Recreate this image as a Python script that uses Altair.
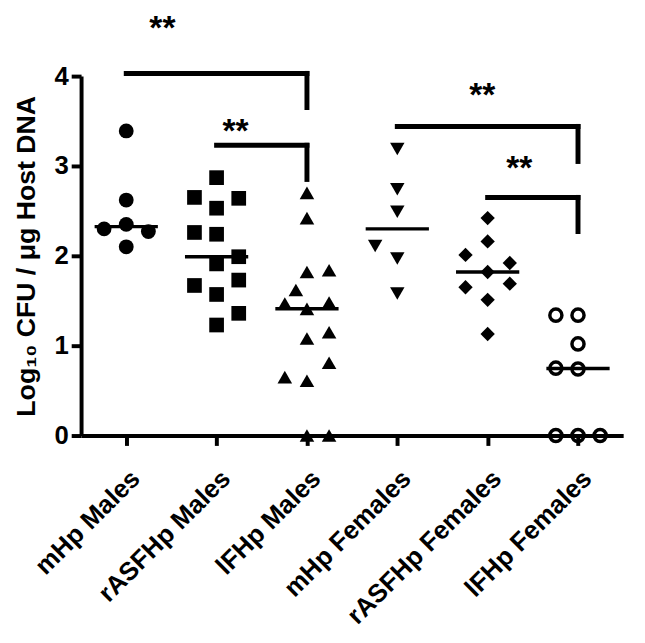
import json
import altair as alt
import pandas as pd

groups = ["mHp Males", "rASFHp Males", "lFHp Males",
          "mHp Females", "rASFHp Females", "lFHp Females"]

# values, with the column slot (-1 left, 0 centre, 1 right) of each point
mhp_m = [3.39, 2.62, 2.30, 2.35, 2.27, 2.10]
mhp_m_col = [0, 0, -1, 0, 1, 0]
rasf_m = [2.87, 2.65, 2.64, 2.53, 2.26, 2.24, 1.99, 1.91, 1.73, 1.67, 1.57, 1.36, 1.23]
rasf_m_col = [0, -1, 1, 0, -1, 0, 1, 0, 1, -1, 0, 1, 0]
lfh_m = [2.70, 2.42, 1.82, 1.84, 1.62, 1.47, 1.48, 1.41, 1.08, 1.15, 0.81, 0.65, 0.61, 0.0, 0.0]
lfh_m_col = [0, 0, 0, 1, -0.5, -1, 1, 0, 0, 1, 1, -1, 0, 0, 1]
mhp_f = [3.19, 2.74, 2.49, 2.11, 1.97, 1.58]
mhp_f_col = [0, 0, 0, -1, 0, 0]
rasf_f = [2.42, 2.16, 2.01, 1.92, 1.82, 1.65, 1.69, 1.51, 1.13]
rasf_f_col = [0, 0, -1, 1, 0, -1, 1, 0, 0]
lfh_f = [1.34, 1.34, 1.02, 0.75, 0.74, 0.0, 0.0, 0.0]
lfh_f_col = [-1, 0, 0, -1, 0, -1, 0, 1]

series = [mhp_m, rasf_m, lfh_m, mhp_f, rasf_f, lfh_f]
cols = [mhp_m_col, rasf_m_col, lfh_m_col, mhp_f_col, rasf_f_col, lfh_f_col]

# significance brackets: left group, right group, bar level, drop end, star position
br_left = [0, 1, 3, 4]
br_right = [2, 2, 5, 5]
br_level = [4.03, 3.23, 3.44, 2.65]
br_drop = [3.65, 2.85, 3.05, 2.27]
star_x = [0.40, 1.21, 3.94, 4.35]
star_y = [4.56, 3.41, 3.81, 3.00]
star_text = ["**", "**", "**", "**"]

rows = []
for gi, (vals, cs) in enumerate(zip(series, cols)):
    for v, c in zip(vals, cs):
        rows.append({"group": groups[gi], "gi": gi, "col": c, "value": v})
pts = pd.DataFrame(rows)
brackets = pd.DataFrame({"x1": br_left, "x2": br_right, "y": br_level, "y2": br_drop})
stars = pd.DataFrame({"x": star_x, "y": star_y, "t": star_text})

SLOT = 0.245
HALF = 0.35
FONT = "Liberation Sans"

label_expr = json.dumps(groups) + "[datum.value]"
xscale = alt.Scale(domain=[-0.5, 5.5], nice=False, zero=False)
yscale = alt.Scale(domain=[0, 4], nice=False, zero=False)

xaxis = alt.Axis(values=[0, 1, 2, 3, 4, 5], labelExpr=label_expr, labelAngle=-45,
                 labelFont=FONT, labelFontSize=26, labelFontWeight="bold", labelColor="black",
                 domainWidth=4, domainColor="black", tickWidth=4, tickSize=10, tickColor="black",
                 grid=False, title=None, labelPadding=20, labelOverlap=False, labelLimit=500)
yaxis = alt.Axis(values=[0, 1, 2, 3, 4], format="d",
                 labelFont=FONT, labelFontSize=26, labelFontWeight="bold", labelColor="black",
                 domainWidth=4, domainColor="black", tickWidth=4, tickSize=10, tickColor="black",
                 grid=False, title="Log₁₀ CFU / μg Host DNA", titleFont=FONT, titleFontSize=27,
                 titleFontWeight="bold", titleColor="black", titlePadding=14, labelPadding=3)

base = alt.Chart(pts).transform_calculate(xpos=f"datum.gi + datum.col * {SLOT}")

filled = base.transform_filter("datum.gi < 5").mark_point(
    filled=True, color="black", opacity=1, strokeWidth=0
).encode(
    x=alt.X("xpos:Q", scale=xscale, axis=xaxis),
    y=alt.Y("value:Q", scale=yscale, axis=yaxis),
    shape=alt.Shape("group:N", scale=alt.Scale(domain=groups[:5],
                    range=["circle", "square", "triangle-up", "triangle-down", "diamond"]), legend=None),
    size=alt.Size("group:N", scale=alt.Scale(domain=groups[:5], range=[225, 210, 230, 230, 300]), legend=None),
)

open_c = base.transform_filter("datum.gi == 5").mark_point(
    shape="circle", filled=False, stroke="black", strokeWidth=3.5, fill="white", fillOpacity=0, opacity=1, size=150
).encode(x=alt.X("xpos:Q", scale=xscale), y=alt.Y("value:Q", scale=yscale))

medians = alt.Chart(pts).transform_aggregate(
    med="median(value)", groupby=["gi"]
).transform_calculate(
    xa=f"datum.gi - {HALF}", xb=f"datum.gi + {HALF}"
).mark_rule(color="black", strokeWidth=3.5).encode(
    x=alt.X("xa:Q", scale=xscale), x2="xb:Q", y=alt.Y("med:Q", scale=yscale)
)

hbar = alt.Chart(brackets).mark_rule(color="black", strokeWidth=5, strokeCap="square").encode(
    x=alt.X("x1:Q", scale=xscale), x2="x2:Q", y=alt.Y("y:Q", scale=yscale)
)
vbar = alt.Chart(brackets).mark_rule(color="black", strokeWidth=5, strokeCap="square").encode(
    x=alt.X("x2:Q", scale=xscale), y=alt.Y("y:Q", scale=yscale), y2="y2:Q"
)
star_marks = alt.Chart(stars).mark_text(
    font=FONT, fontSize=34, fontWeight="bold", color="black", baseline="middle", align="center", dy=3
).encode(x=alt.X("x:Q", scale=xscale), y=alt.Y("y:Q", scale=yscale), text="t:N")

chart = alt.layer(hbar, vbar, medians, filled, open_c, star_marks).properties(
    width=549, height=364,
    autosize=alt.AutoSizeParams(type="none"),
    padding={"left": 74, "top": 65, "right": 14, "bottom": 196},
    background="white",
).configure_view(stroke=None)

chart.save("out.html", embed_options={"renderer": "svg", "actions": False})
